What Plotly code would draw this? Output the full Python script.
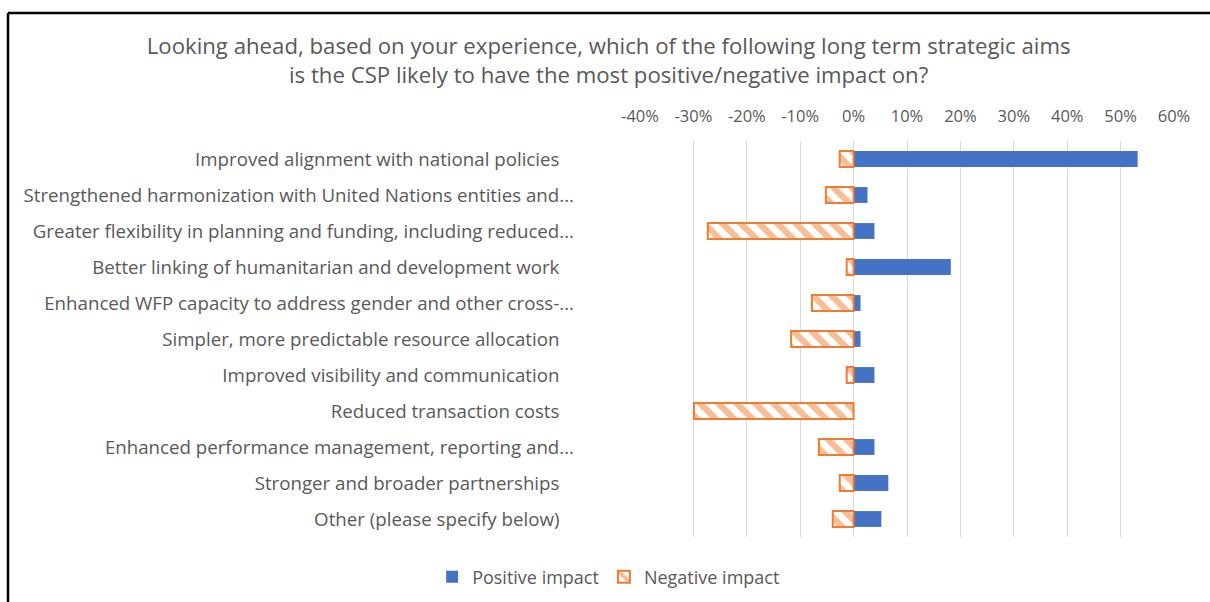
import plotly.graph_objects as go

# Survey categories (top to bottom)
categories = [
    "Improved alignment with national policies",
    "Strengthened harmonization with United Nations entities and...",
    "Greater flexibility in planning and funding, including reduced...",
    "Better linking of humanitarian and development work",
    "Enhanced WFP capacity to address gender and other cross-...",
    "Simpler, more predictable resource allocation",
    "Improved visibility and communication",
    "Reduced transaction costs",
    "Enhanced performance management, reporting and...",
    "Stronger and broader partnerships",
    "Other (please specify below)",
]

# Share of respondents (fractions)
positive_impact = [0.532, 0.026, 0.039, 0.182, 0.013, 0.013, 0.039, 0.0, 0.039, 0.065, 0.052]
negative_impact = [-0.026, -0.052, -0.273, -0.013, -0.078, -0.117, -0.013, -0.299, -0.065, -0.026, -0.039]

x_ticks = [-0.4, -0.3, -0.2, -0.1, 0.0, 0.1, 0.2, 0.3, 0.4, 0.5, 0.6]
x_tick_labels = ["-40%", "-30%", "-20%", "-10%", "0%", "10%", "20%", "30%", "40%", "50%", "60%"]

# Labels that are not truncated carry a little trailing space
display_labels = [c if c.endswith("...") else c + "\u00a0\u00a0\u00a0" for c in categories]

W, H = 1210, 602
L, R, T, B = 640, 36, 141, 65
FONT = "'Open Sans', Lato, sans-serif"
GREY = "#595959"
BLUE = "#4472C4"
ORANGE = "#ED7D31"

fig = go.Figure()
fig.add_trace(go.Bar(
    y=display_labels, x=positive_impact, orientation="h", name="Positive impact",
    marker=dict(color=BLUE, line=dict(width=0)), width=0.44,
))
fig.add_trace(go.Bar(
    y=display_labels, x=negative_impact, orientation="h", name="Negative impact",
    marker=dict(
        color="white",
        line=dict(color=ORANGE, width=2),
        pattern=dict(shape="\\", fgcolor=ORANGE, bgcolor="white", size=13, solidity=0.5),
    ),
    width=0.44,
))

# Frame line along the left and top of the chart area (pixel -> paper coords)
pw, ph = W - L - R, H - T - B
def px_x(p):
    return (p - L) / pw
def px_y(p):
    return 1 - (p - T) / ph

fig.add_shape(type="line", xref="paper", yref="paper",
              x0=px_x(8), x1=px_x(W + 5), y0=px_y(13), y1=px_y(13),
              line=dict(color="black", width=2.5))
fig.add_shape(type="line", xref="paper", yref="paper",
              x0=px_x(8), x1=px_x(8), y0=px_y(13), y1=px_y(H + 5),
              line=dict(color="black", width=2.5))

fig.update_layout(
    width=W, height=H,
    margin=dict(l=L, r=R, t=T, b=B),
    paper_bgcolor="white", plot_bgcolor="white",
    barmode="overlay",
    font=dict(family=FONT, color=GREY),
    title=dict(
        text="Looking ahead, based on your experience, which of the following long term strategic aims<br>"
             "is the CSP likely to have the most positive/negative impact on?",
        x=0.503, xanchor="center", xref="container",
        y=1 - 54 / H, yanchor="middle", yref="container",
        font=dict(family=FONT, size=22.2, color=GREY),
    ),
    xaxis=dict(
        side="top", range=[-0.4, 0.6], tickvals=x_ticks, ticktext=x_tick_labels,
        showgrid=True, gridcolor="#d9d9d9", gridwidth=1,
        zeroline=True, zerolinecolor="#d9d9d9", zerolinewidth=1,
        showline=False, ticks="", ticklabelstandoff=15,
        tickfont=dict(family=FONT, size=16.5, color=GREY),
    ),
    yaxis=dict(
        autorange="reversed", showgrid=False, showline=False, ticks="",
        ticklabelstandoff=65,
        tickfont=dict(family=FONT, size=18.7, color=GREY),
    ),
    legend=dict(
        orientation="h", x=0.503, xanchor="center", xref="container",
        y=1 - 577 / H, yanchor="middle", yref="container",
        font=dict(family=FONT, size=18, color=GREY),
        traceorder="normal", itemwidth=30,
    ),
    showlegend=True,
)

fig.write_html("out.html")
